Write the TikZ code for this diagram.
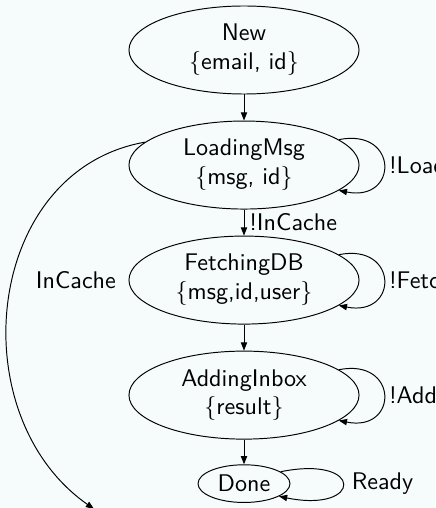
\documentclass[tikz,border=0pt]{standalone}
\usepackage{xcolor}
\usepackage{tikz}
\usetikzlibrary{shapes.geometric,arrows.meta,positioning}

\definecolor{paper}{RGB}{246,251,251}

\begin{document}
\begin{tikzpicture}[
    x=0.01459cm, y=-0.01459cm,
    node distance=0.38cm,
    every node/.style={font=\sffamily},
    state/.style={ellipse, draw, thin, minimum width=3.356cm, minimum height=1.284cm, inner sep=0pt, align=center},
    final/.style={ellipse, draw, thin, minimum width=1.342cm, minimum height=0.55cm, inner sep=0pt},
    lbl/.style={inner sep=2pt},
    arr/.style={-{Triangle[length=3.4pt,width=2.6pt]}, thin}
]
    % page
    \fill[paper] (0,0) rectangle (435,508);
    \clip (0,0) rectangle (435,508);

    % States
    \node[state] (new) at (244,50) {New\\\{email, id\}};
    \node[state, below=of new] (load) {LoadingMsg\\\{msg, id\}};
    \node[state, below=of load] (fetch) {FetchingDB\\\{msg,id,user\}};
    \node[state, below=of fetch] (add) {AddingInbox\\\{result\}};
    \node[final, below=0.36cm of add] (done) {Done};
    \coordinate (out) at (94,509);

    % Arrows
    \draw[arr] (new) -- (load);
    \draw[arr] (load) -- node[right, lbl] {!InCache} (fetch);
    \draw[arr] (fetch) -- (add);
    \draw[arr] (add) -- (done);
    \draw[arr] (load.167) to[out=190, in=145, looseness=1.13] (out);

    % Loops
    \draw[arr] (load.15) .. controls +(60,-12) and +(60,12) .. (load.-15);
    \draw[arr] (fetch.15) .. controls +(60,-12) and +(60,12) .. (fetch.-15);
    \draw[arr] (add.15) .. controls +(60,-12) and +(60,12) .. (add.-15);
    \draw[arr] (done.18) .. controls +(84,-17) and +(84,17) .. (done.-20);

    % Labels
    \node[right=0.306cm of load] (loadlbl) {!Loaded};
    \node[right=0.306cm of fetch] (fetchlbl) {!Fetched};
    \node[right=0.306cm of add] (addlbl) {!Added};
    \node[right=0.77cm of done] (readylbl) {Ready};
    \node[left=0.06cm of fetch] (incache) {InCache};
\end{tikzpicture}
\end{document}
